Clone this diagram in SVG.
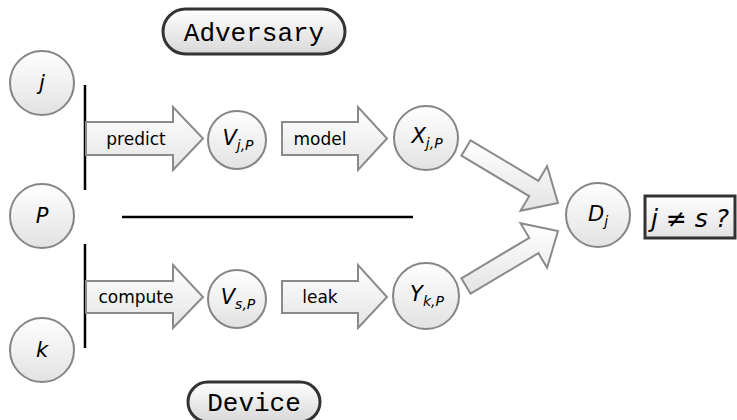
<svg xmlns="http://www.w3.org/2000/svg" width="737" height="420" viewBox="0 0 737 420">
<defs>
<linearGradient id="gc" x1="0" y1="0" x2="0" y2="1"><stop offset="0" stop-color="#ffffff"/><stop offset="1" stop-color="#e2e2e2"/></linearGradient>
<linearGradient id="ga" x1="0" y1="0" x2="0" y2="1"><stop offset="0" stop-color="#ffffff"/><stop offset="1" stop-color="#e4e4e4"/></linearGradient>
<linearGradient id="gp" x1="0" y1="0" x2="0" y2="1"><stop offset="0" stop-color="#ffffff"/><stop offset="1" stop-color="#d8d8d8"/></linearGradient>
<style>
.c{fill:url(#gc);stroke:#858585;stroke-width:2}
.ar{fill:url(#ga);stroke:#8a8a8a;stroke-width:2;stroke-linejoin:miter}
.pill{fill:url(#gp);stroke:#333;stroke-width:3}
.ln{stroke:#000;stroke-width:2.5;fill:none}
.m{font-family:"DejaVu Sans",sans-serif;font-style:italic;font-size:21px;fill:#000;text-anchor:middle}
.s{font-size:14px}
.lb{font-family:"DejaVu Sans",sans-serif;font-size:17px;fill:#000;text-anchor:middle}
.tt{font-family:"Liberation Mono",monospace;font-size:26px;fill:#000;text-anchor:middle}
</style>
</defs>
<g id="connectors">
<line class="ln" x1="85" y1="85" x2="85" y2="190"/>
<line class="ln" x1="85" y1="244" x2="85" y2="348"/>
<line class="ln" x1="122" y1="217" x2="413" y2="217"/>
<g id="arrow-predict"><polygon class="ar" points="86,122 173,122 173,107 203,138.5 173,170 173,155 86,155"/><text class="lb" x="136" y="145">predict</text></g>
<g id="arrow-model"><polygon class="ar" points="282,122 358,122 358,107 387,138.5 358,170 358,155 282,155"/><text class="lb" x="320" y="145">model</text></g>
<g id="arrow-compute"><polygon class="ar" points="86,281 173,281 173,265 203,297 173,328 173,313 86,313"/><text class="lb" x="136" y="303">compute</text></g>
<g id="arrow-leak"><polygon class="ar" points="282,281 358,281 358,265 387,297 358,328 358,313 282,313"/><text class="lb" x="320" y="303">leak</text></g>
<polygon id="arrow-xd" class="ar" points="470.6,140.3 538.4,180.8 547.1,166.2 558,203 520.5,210.8 529.2,196.2 461.4,155.7"/>
<polygon id="arrow-yd" class="ar" points="461.4,278.3 529.2,237.8 520.5,223.2 558,231 547.1,267.8 538.4,253.2 470.6,293.7"/>
</g>
<g id="adversary"><rect class="pill" x="163" y="9" width="182" height="45" rx="22.5"/><text class="tt" x="254" y="41">Adversary</text></g>
<g id="device"><rect class="pill" x="188" y="382" width="132" height="40" rx="20"/><text class="tt" x="254" y="411">Device</text></g>
<g id="node-j"><circle class="c" cx="42" cy="83" r="32"/><text class="m" x="42" y="90">j</text></g>
<g id="node-P"><circle class="c" cx="42" cy="216" r="32"/><text class="m" x="42" y="223">P</text></g>
<g id="node-k"><circle class="c" cx="42" cy="350" r="32"/><text class="m" x="42" y="357">k</text></g>
<g id="node-Vj"><circle class="c" cx="237" cy="140" r="29"/><text class="m" x="238" y="145">V<tspan class="s" dy="5">j,P</tspan></text></g>
<g id="node-Vs"><circle class="c" cx="237" cy="299" r="29"/><text class="m" x="238" y="304">V<tspan class="s" dy="5">s,P</tspan></text></g>
<g id="node-X"><circle class="c" cx="426" cy="138" r="32"/><text class="m" x="427" y="143">X<tspan class="s" dy="5">j,P</tspan></text></g>
<g id="node-Y"><circle class="c" cx="426" cy="296" r="33"/><text class="m" x="427" y="301">Y<tspan class="s" dy="5">k,P</tspan></text></g>
<g id="node-D"><circle class="c" cx="598" cy="215" r="32"/><text class="m" x="598" y="221">D<tspan class="s" dy="5">j</tspan></text></g>
<g id="check"><rect x="645" y="196" width="90" height="42" fill="url(#gc)" stroke="#333" stroke-width="3"/><text class="m" x="690" y="227" style="font-size:25px">j ≠ s ?</text></g>
</svg>
